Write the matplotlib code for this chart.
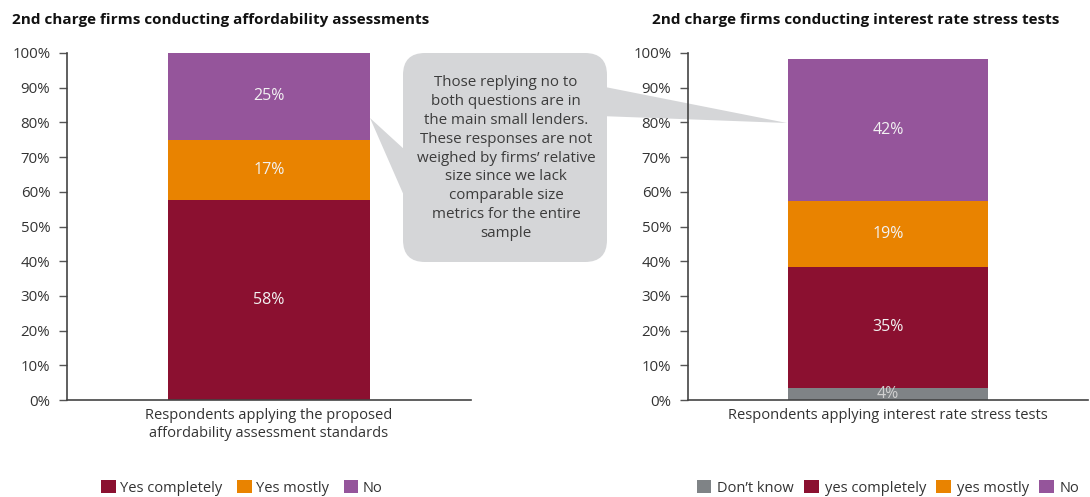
import matplotlib
matplotlib.use("Agg")
import matplotlib.pyplot as plt
from matplotlib.patches import FancyBboxPatch, Polygon, Patch

plt.rcParams['font.family'] = ['Open Sans', 'DejaVu Sans']

# ---- data ----
left_title = "2nd charge firms conducting affordability assessments"
left_category = ["Respondents applying the proposed\naffordability assessment standards"]
left_series = ["Yes completely", "Yes mostly", "No"]
left_values = [57.5, 17.5, 25.0]
left_labels = ["58%", "17%", "25%"]

right_title = "2nd charge firms conducting interest rate stress tests"
right_category = ["Respondents applying interest rate stress tests"]
right_series = ["Don\u2019t know", "yes completely", "yes mostly", "No"]
right_values = [3.5, 34.8, 19.0, 41.0]
right_labels = ["4%", "35%", "19%", "42%"]

y_ticks = list(range(0, 101, 10))
y_ticklabels = [f"{t}%" for t in y_ticks]

callout_text = ("Those replying no to\nboth questions are in\nthe main small lenders.\n"
                "These responses are not\nweighed by firms\u2019 relative\nsize since we lack\n"
                "comparable size\nmetrics for the entire\nsample")

RED = "#8b1030"
ORANGE = "#e98300"
PURPLE = "#95559b"
GREY = "#7f8386"
TXT = "#333333"
left_colors = [RED, ORANGE, PURPLE]
right_colors = [GREY, RED, ORANGE, PURPLE]

W, H = 1090, 497
fig = plt.figure(figsize=(W / 100, H / 100), dpi=100)

# overlay for callout (behind axes)
ov = fig.add_axes([0, 0, 1, 1], zorder=0)
ov.set_xlim(0, W)
ov.set_ylim(H, 0)
ov.axis('off')
CALL = "#d5d6d8"
ov.add_patch(Polygon([(370, 118), (405, 150), (405, 198)], closed=True, fc=CALL, ec='none'))
ov.add_patch(Polygon([(600, 86), (787, 123), (600, 116)], closed=True, fc=CALL, ec='none'))
ov.add_patch(FancyBboxPatch((403 + 22, 53 + 22), 204 - 44, 209 - 44,
                            boxstyle="round,pad=22", fc=CALL, ec='none'))
ov.text(506, 158, callout_text, ha='center', va='center', fontsize=10.9,
        color="#3c3c3c", linespacing=1.36)


def px_rect(x0, x1, y0, y1):
    return [x0 / W, 1 - y1 / H, (x1 - x0) / W, (y1 - y0) / H]


def draw(ax, values, labels, colors, category, label_colors):
    ax.patch.set_alpha(0)
    bottom = 0
    for v, lab, c, lc in zip(values, labels, colors, label_colors):
        ax.bar([0], [v], bottom=bottom, width=1.0, color=c, zorder=2)
        ax.text(0, bottom + v / 2, lab, ha='center', va='center', color=lc,
                fontsize=11.5, zorder=3)
        bottom += v
    ax.set_xlim(-1, 1)
    ax.set_ylim(0, 100)
    ax.set_yticks(y_ticks)
    ax.set_yticklabels(y_ticklabels)
    ax.set_xticks([0])
    ax.set_xticklabels(category)
    ax.tick_params(axis='y', length=6, width=1, color="#555555", labelsize=10.8,
                   labelcolor=TXT, pad=6)
    ax.tick_params(axis='x', length=0, labelsize=10.5, labelcolor=TXT, pad=6)
    for s in ['top', 'right']:
        ax.spines[s].set_visible(False)
    for s in ['left', 'bottom']:
        ax.spines[s].set_color("#444444")
        ax.spines[s].set_linewidth(1.2)


ax1 = fig.add_axes(px_rect(67, 471, 53, 400), zorder=1)
draw(ax1, left_values, left_labels, left_colors, left_category,
     ["#f2f2f2"] * 3)
ax2 = fig.add_axes(px_rect(688, 1088, 53, 400), zorder=1)
draw(ax2, right_values, right_labels, right_colors, right_category,
     ["#d0d0d0", "#f2f2f2", "#f2f2f2", "#f2f2f2"])

fig.text(12 / W, 1 - 20 / H, left_title, ha='left', va='center', fontsize=10.95,
         fontweight='bold', color="#111111")
fig.text(652 / W, 1 - 20 / H, right_title, ha='left', va='center', fontsize=10.95,
         fontweight='bold', color="#111111")

h1 = [Patch(fc=c, ec='none') for c in left_colors]
fig.legend(h1, left_series, loc='center', bbox_to_anchor=(242 / W, 1 - 488 / H),
           ncol=3, frameon=False, fontsize=10.5, handlelength=1.0, handleheight=1.0,
           handletextpad=0.3, columnspacing=1.0, labelcolor=TXT)
h2 = [Patch(fc=c, ec='none') for c in right_colors]
fig.legend(h2, right_series, loc='center', bbox_to_anchor=(888 / W, 1 - 488 / H),
           ncol=4, frameon=False, fontsize=10.5, handlelength=1.0, handleheight=1.0,
           handletextpad=0.4, columnspacing=0.7, labelcolor=TXT)

fig.savefig("out.png", dpi=100)
